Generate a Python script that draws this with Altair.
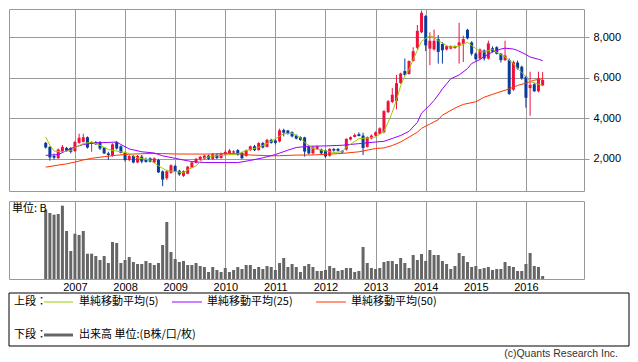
import altair as alt
import pandas as pd

# ---------------- data (monthly, first candle = June 2006) ----------------
START_YEAR = 2006
START_MONTH = 6

opens = [
    2780, 2580, 2130, 2020, 2340, 2530, 2530, 2370, 2780, 2830,
    3060, 2740, 2820, 2820, 2550, 2260, 2130, 2820, 2610, 2290,
    1935, 2130, 1810, 2100, 1970, 2015, 1810, 1935, 1370, 1030,
    1300, 1640, 1400, 1150, 1250, 1560, 1800, 1960, 2000, 2150,
    1990, 2200, 2030, 2200, 2250, 2300, 2420, 2290, 2130, 2420,
    2610, 2420, 2770, 2580, 2930, 2900, 2850, 3420, 3390, 3310,
    3150, 3060, 3050, 2620, 2260, 2480, 2450, 2400, 2140, 2480,
    2480, 2370, 2450, 2950, 3070, 3210, 3140, 2580, 3000, 3140,
    3230, 3310, 4300, 4800, 4850, 5740, 6330, 6190, 6830, 7480,
    8250, 9050, 7440, 7400, 7910, 7670, 7400, 7440, 7470, 7590,
    7680, 8370, 7750, 7190, 6950, 7350, 6950, 7460, 7510, 7190,
    6870, 6870, 5410, 6750, 6540, 6050, 5490, 5680, 5330, 5620,
]
highs = [
    2830, 2620, 2250, 2500, 2680, 2580, 2560, 2880, 3230, 3230,
    3100, 2850, 2870, 2870, 2580, 2340, 2760, 2870, 2660, 2340,
    2180, 2180, 2180, 2180, 2050, 2060, 2060, 1990, 1420, 1450,
    1720, 1700, 1450, 1420, 1640, 1850, 2030, 2130, 2200, 2200,
    2280, 2250, 2300, 2420, 2480, 2420, 2470, 2340, 2450, 2650,
    2680, 2810, 2830, 2980, 2980, 2950, 3480, 3480, 3420, 3350,
    3200, 3100, 3080, 2680, 2620, 2650, 2500, 2450, 2520, 2520,
    2520, 2420, 3000, 3100, 3250, 3300, 3280, 3100, 3200, 3350,
    3550, 4400, 4900, 5490, 6140, 6250, 6950, 6860, 7510, 8610,
    9320, 9100, 8240, 8380, 8110, 7760, 7600, 7600, 7600, 8720,
    8080, 8420, 7800, 7250, 7450, 7400, 7840, 7550, 7560, 7230,
    7830, 6950, 6850, 6850, 6600, 6100, 6300, 5750, 6300, 6280,
]
lows = [
    2500, 1900, 1950, 2000, 2300, 2340, 2260, 2340, 2740, 2800,
    2500, 2340, 2680, 2420, 2230, 1940, 2100, 2450, 2260, 1860,
    1870, 1770, 1780, 1770, 1800, 1810, 1780, 1290, 640, 950,
    1250, 1330, 1150, 1100, 1230, 1530, 1760, 1900, 1960, 1940,
    1950, 1980, 2000, 2160, 2200, 2250, 2150, 1990, 2100, 2380,
    2380, 2400, 2500, 2550, 2740, 2700, 2800, 3100, 3180, 3050,
    2950, 2880, 2100, 2200, 2200, 2440, 2200, 2050, 2100, 2350,
    2350, 2280, 2400, 2900, 3050, 3100, 2180, 2550, 2950, 3100,
    3200, 3250, 4250, 4750, 4440, 5700, 6100, 6150, 6800, 7400,
    8200, 7320, 6620, 7350, 6700, 6700, 7350, 7400, 7430, 6700,
    6780, 7900, 7100, 6850, 6900, 6850, 6900, 7250, 7150, 6750,
    6830, 5150, 5350, 6400, 5900, 4520, 4120, 5300, 5280, 5580,
]
closes = [
    2550, 2060, 2050, 2450, 2580, 2390, 2340, 2820, 3030, 3060,
    2550, 2820, 2710, 2500, 2260, 2180, 2710, 2500, 2290, 1935,
    2130, 1810, 2130, 1855, 1840, 1855, 2015, 1320, 965, 1380,
    1670, 1370, 1220, 1380, 1600, 1810, 1990, 2090, 2150, 1990,
    2220, 2030, 2250, 2330, 2400, 2360, 2180, 2016, 2420, 2610,
    2420, 2770, 2550, 2930, 2780, 2780, 3400, 3280, 3240, 3100,
    2990, 2920, 2350, 2260, 2560, 2600, 2260, 2110, 2480, 2400,
    2390, 2310, 2980, 3060, 3170, 3120, 2530, 3060, 3140, 3300,
    3500, 4350, 4840, 5160, 5730, 6210, 6140, 6830, 7310, 8320,
    9210, 7600, 7830, 7830, 7280, 7360, 7560, 7560, 7560, 7750,
    7910, 7950, 7190, 6920, 7390, 6950, 7700, 7300, 7190, 6870,
    7100, 5200, 6780, 6460, 5980, 5010, 5650, 5330, 5970, 5890,
]
volumes = [
    69.3, 66, 64.3, 65, 73.3, 48, 28, 45.3, 44, 48,
    25.3, 25.3, 23, 19, 23, 16, 37, 36, 16, 19,
    22, 17, 15, 15, 18, 16, 14, 16, 34, 57,
    27, 20, 17, 18, 14, 14, 16, 13, 12, 7,
    12, 9, 7, 11, 7, 9, 12, 10, 14, 14,
    10, 12, 10, 13, 12, 9, 16, 21, 12, 15,
    12, 7, 13, 15, 12, 8, 8, 9, 13, 11,
    8, 9, 11, 11, 7, 8, 32, 16, 11, 10,
    11, 17, 18, 18, 15, 21, 16, 11, 24, 19,
    25, 18, 29, 24, 24, 18, 15, 10, 13, 26,
    23, 17, 12, 13, 10, 11, 12, 9, 10, 10,
    17, 13, 12, 8, 8, 15, 26, 13, 12, 3,
]

# moving averages (month index, value)
ma5_idx = [0, 1, 2, 4, 6, 7, 9, 11, 13, 15, 18, 20, 22, 25, 27, 29, 31, 33, 34, 36,
           38, 40, 43, 46, 48, 51, 53, 55, 57, 59, 61, 62, 64, 66, 68, 69, 71, 72, 75, 77,
           79, 81, 82, 83, 84, 85, 86, 87, 88, 89, 90, 91, 92, 93, 94, 96, 97, 99, 101, 102,
           104, 105, 107, 108, 110, 112, 113, 115, 116, 118, 119]
ma5_val = [3067, 2663, 2372, 2340, 2400, 2550, 2743, 2824, 2663, 2450, 2340, 2258, 2030, 1935, 1650, 1400, 1370, 1300, 1450, 1644,
           2030, 2129, 2177, 2226, 2400, 2560, 2744, 2986, 3229, 3261, 3034, 2800, 2501, 2420, 2339, 2305, 2338, 2580, 2984, 3017,
           3065, 3350, 3800, 4300, 4900, 5600, 6100, 6400, 6900, 7350, 7800, 7950, 8080, 8000, 7836, 7593, 7512, 7561, 7755, 7593,
           7300, 7270, 7399, 7270, 7027, 6704, 6461, 6057, 5815, 5685, 5620]
ma25_idx = [0, 3, 6, 9, 12, 15, 17, 18, 20, 23, 26, 28, 31, 33, 35, 38, 43, 46, 49, 52,
            55, 58, 60, 63, 67, 71, 75, 79, 81, 83, 85, 87, 89, 90, 91, 92, 93, 94, 95, 96,
            97, 99, 101, 102, 104, 105, 107, 109, 110, 112, 113, 115, 116, 118, 119]
ma25_val = [2160, 2200, 2500, 2700, 2780, 2800, 2824, 2700, 2480, 2340, 2280, 2140, 2016, 1930, 1854, 1806, 1806, 1806, 1910, 2040,
            2200, 2420, 2550, 2614, 2629, 2661, 2742, 2823, 2855, 3000, 3146, 3350, 3793, 4250, 4450, 4650, 4880, 5150, 5450, 5700,
            5950, 6138, 6450, 6704, 6900, 7050, 7270, 7420, 7464, 7420, 7351, 7150, 7027, 6914, 6850]
ma50_idx = [0, 3, 5, 7, 9, 11, 14, 17, 20, 24, 28, 31, 38, 43, 46, 49, 54, 56, 60, 64,
            68, 71, 75, 79, 81, 83, 85, 87, 89, 90, 92, 94, 95, 98, 100, 103, 105, 108, 111, 113,
            115, 117, 119]
ma50_val = [1580, 1680, 1741, 1830, 1935, 2016, 2097, 2170, 2220, 2250, 2250, 2230, 2226, 2250, 2250, 2180, 2140, 2145, 2177, 2180,
            2226, 2257, 2338, 2499, 2532, 2650, 2823, 3065, 3308, 3502, 3712, 3922, 4150, 4500, 4683, 4812, 5038, 5249, 5450, 5621,
            5734, 5880, 5950]

year_ticks = list(range(2007, 2017))
price_ticks = [2000, 4000, 6000, 8000]
legend_labels = ["単純移動平均(5)", "単純移動平均(25)", "単純移動平均(50)"]
volume_label = "出来高 単位:(B株/口/枚)"
unit_label = "単位: B"
credit = "(c)Quants Research Inc."

# ---------------- styling ----------------
UP, DOWN = "#f0103c", "#0a3a9a"
MA_COLORS = ["#99cc00", "#9900ff", "#ff3300"]
VOL_COLOR = "#666666"
GRID = "#999999"
NUM_FONT = "Liberation Sans"
JP_FONT = "Noto Sans CJK JP"
W, PH, VH = 575, 182, 78
X_DOM = [2005.784, 2017.059]
Y_DOM = [400, 9400]


def month_pos(i):
    return START_YEAR + (START_MONTH - 1 + i) / 12.0


n = len(closes)
df = pd.DataFrame({
    "t": [month_pos(i) for i in range(n)],
    "open": opens, "high": highs, "low": lows, "close": closes, "vol": volumes,
})
df["dir"] = ["up" if c >= o else "down" for o, c in zip(opens, closes)]


def ma_frame(idx, vals):
    return pd.DataFrame({"t": [month_pos(i) for i in idx], "v": vals})


xscale = alt.Scale(domain=X_DOM, nice=False, zero=False)
yscale = alt.Scale(domain=Y_DOM, nice=False, zero=False)


def px_axis():
    return alt.Axis(values=year_ticks, grid=True, gridColor=GRID, gridWidth=1,
                    labels=False, ticks=False, domain=False, title=None)


def py_axis():
    return alt.Axis(orient="right", values=price_ticks, labelExpr="format(datum.value, ',')",
                    grid=True, gridColor=GRID, gridWidth=1, ticks=True, tickColor=GRID,
                    tickSize=5, labelPadding=4, domain=False, title=None, labelFont=NUM_FONT,
                    labelFontSize=11, labelColor="#000000")


color_dir = alt.Color("dir:N", scale=alt.Scale(domain=["up", "down"], range=[UP, DOWN]), legend=None)

wicks = alt.Chart(df).mark_rule(strokeWidth=1).encode(
    x=alt.X("t:Q", scale=xscale, axis=px_axis()),
    y=alt.Y("low:Q", scale=yscale, axis=py_axis()),
    y2="high:Q",
    color=color_dir,
)
bodies = alt.Chart(df).mark_bar(size=3).encode(
    x=alt.X("t:Q", scale=xscale, axis=px_axis()),
    y=alt.Y("open:Q", scale=yscale, axis=py_axis()),
    y2="close:Q",
    color=color_dir,
)


def ma_line(idx, vals, color):
    return alt.Chart(ma_frame(idx, vals)).mark_line(strokeWidth=1, color=color).encode(
        x=alt.X("t:Q", scale=xscale, axis=px_axis()),
        y=alt.Y("v:Q", scale=yscale, axis=py_axis()),
    )


price = alt.layer(
    wicks, bodies,
    ma_line(ma50_idx, ma50_val, MA_COLORS[2]),
    ma_line(ma25_idx, ma25_val, MA_COLORS[1]),
    ma_line(ma5_idx, ma5_val, MA_COLORS[0]),
).properties(width=W, height=PH)

vol_xaxis = alt.Axis(values=year_ticks, grid=True, gridColor=GRID, gridWidth=1, labels=True,
                     format="d", ticks=False, domain=False, labelPadding=2, labelFont=NUM_FONT,
                     labelFontSize=11, labelColor="#000000", title=None)
vbars = alt.Chart(df).mark_bar(size=3, color=VOL_COLOR).encode(
    x=alt.X("t:Q", scale=xscale, axis=vol_xaxis),
    y=alt.Y("vol:Q", scale=alt.Scale(domain=[0, 78], nice=False), axis=None),
)

one = pd.DataFrame({"k": [0]})


def txt(s, x, y, font=JP_FONT, size=11, align="left", color="#000000"):
    return alt.Chart(one).mark_text(align=align, baseline="middle", font=font,
                                    fontSize=size, color=color).encode(
        x=alt.value(x), y=alt.value(y), text=alt.value(s))


def seg(x1, x2, y, color, width=1):
    return alt.Chart(one).mark_rule(color=color, strokeWidth=width).encode(
        x=alt.value(x1), x2=alt.value(x2), y=alt.value(y))


box = alt.Chart(one).mark_rect(fill="white", stroke="black", strokeWidth=1).encode(
    x=alt.value(0), x2=alt.value(620), y=alt.value(92), y2=alt.value(145))

volume = alt.layer(
    vbars,
    txt(unit_label, 3, 8),
    box,
    txt("上段：", 5, 101),
    seg(35, 64, 101, MA_COLORS[0]),
    txt(legend_labels[0], 70, 101),
    seg(163, 193, 101, MA_COLORS[1]),
    txt(legend_labels[1], 198, 101),
    seg(307, 337, 101, MA_COLORS[2]),
    txt(legend_labels[2], 342, 101),
    txt("下段：", 5, 134),
    seg(35, 64, 134, VOL_COLOR, 3),
    txt(volume_label, 70, 134),
    txt(credit, 609, 153, font=NUM_FONT, size=10.5, align="right", color="#333333"),
).properties(width=W, height=VH)

chart = alt.vconcat(price, volume, spacing=8).properties(
    padding={"left": 0, "top": 0, "right": 0, "bottom": 0},
    background="white",
).configure_view(stroke=GRID, strokeWidth=1)

chart.save("out.html", embed_options={"renderer": "svg", "actions": False})
